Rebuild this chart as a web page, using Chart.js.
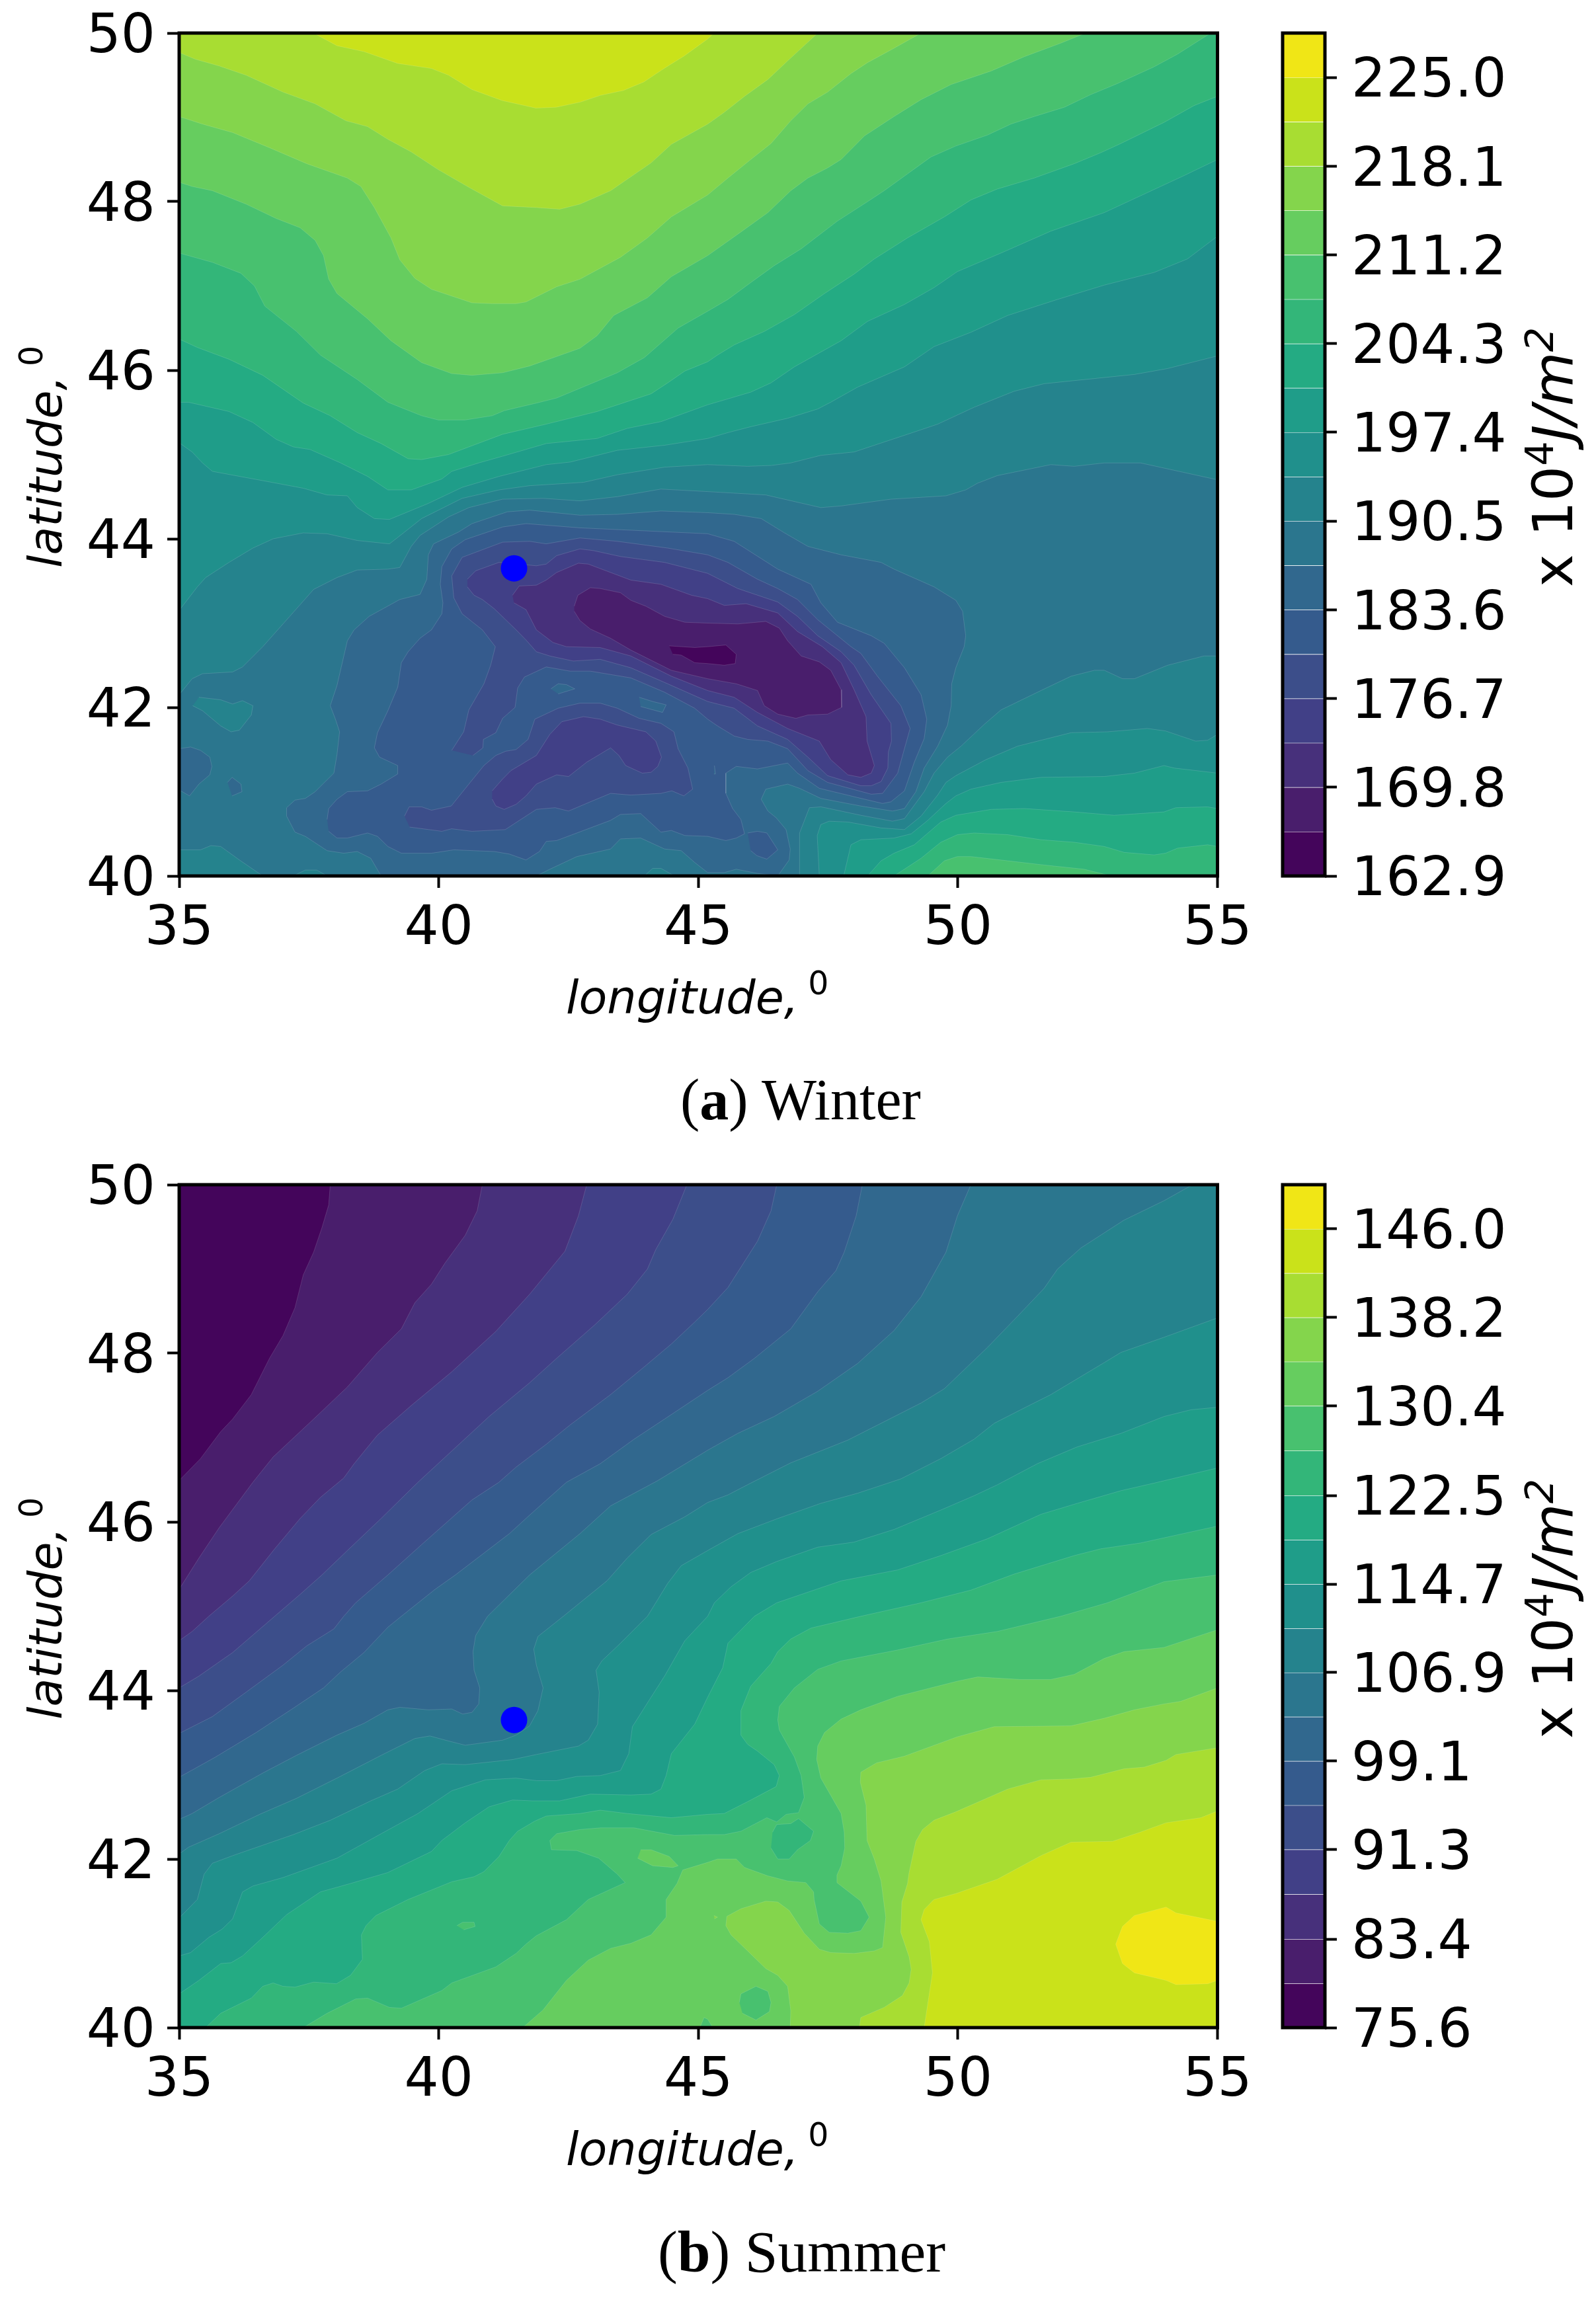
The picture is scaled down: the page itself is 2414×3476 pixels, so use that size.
<!DOCTYPE html>
<html><head><meta charset="utf-8"><title>Winter and Summer</title>
<script src="https://cdn.jsdelivr.net/npm/chart.js@4"></script>
<style>
html,body{margin:0;padding:0;background:#fff;width:2414px;height:3476px;overflow:hidden}
canvas{position:absolute}
.cap{position:absolute;font-family:"Liberation Serif",serif;line-height:100px;white-space:nowrap;color:#000}
.cb,.ax{position:absolute;font-family:"DejaVu Sans",sans-serif;white-space:nowrap;color:#000}
.cb{font-size:84px;line-height:100px;transform-origin:left top;transform:rotate(-90deg)}
.cb span{font-size:.7em;position:relative;top:-.5em}
.cb i{font-style:italic}
.ax{font-size:70px;line-height:80px;font-style:italic}
.ax span{font-style:normal;font-size:.7em;position:relative;top:-.6em;margin-left:-8px}
.ax.rot{transform-origin:left top;transform:rotate(-90deg)}
</style></head><body>
<canvas id="mapW" width="1900" height="1640" style="left:0;top:0;width:1900px;height:1640px"></canvas>
<canvas id="barW" width="514" height="1640" style="left:1900px;top:0;width:514px;height:1640px"></canvas>
<canvas id="mapS" width="1900" height="1640" style="left:0;top:1742px;width:1900px;height:1640px"></canvas>
<canvas id="barS" width="514" height="1640" style="left:1900px;top:1742px;width:514px;height:1640px"></canvas>
<div class="ax" style="left:856px;top:1469px">longitude, <span>0</span></div>
<div class="ax" style="left:856px;top:3211px">longitude, <span>0</span></div>
<div class="ax rot" style="left:29px;top:859px">latitude, <span>0</span></div>
<div class="ax rot" style="left:29px;top:2601px">latitude, <span>0</span></div>
<div class="cb" style="left:2299px;top:888px">x 10<span>4</span><i>J/m</i><span><i>2</i></span></div>
<div class="cb" style="left:2299px;top:2630px">x 10<span>4</span><i>J/m</i><span><i>2</i></span></div>
<div class="cap" style="left:1029px;top:1614px;font-size:88px">(<b>a</b>) Winter</div>
<div class="cap" style="left:995px;top:3356px;font-size:89.5px">(<b>b</b>) Summer</div>
<script>
const longitudeTicks=[35,40,45,50,55];
const latitudeTicks=[40,42,44,46,48,50];
const winterTicks=[162.9,169.8,176.7,183.6,190.5,197.4,204.3,211.2,218.1,225.0];
const winterEdges=[162.9,166.35,169.8,173.25,176.7,180.15,183.6,187.05,190.5,193.95,197.4,200.85,204.3,207.75,211.2,214.65,218.1,221.55,225.0,228.45];
const summerTicks=[75.6,83.4,91.3,99.1,106.9,114.7,122.5,130.4,138.2,146.0];
const summerEdges=[75.6,79.5,83.4,87.35,91.3,95.2,99.1,103,106.9,110.8,114.7,118.6,122.5,126.45,130.4,134.3,138.2,142.1,146.0,149.9];
/* band colours, index 0 = highest band */
const bandColors=['#F0E616','#CAE21A','#A8DD32','#84D54C','#66CD5F','#48C16F','#33B679','#24AB83','#1F9D89','#20908C','#25838D','#2B768E','#31688E','#355B8D','#3C4E8A','#414087','#47307B','#491E6C','#44055B'];
const siteLon=[41.45], siteLat=[43.65];

/* ---- Winter contour regions, flat lon,lat lists ---- */
const wFull=[35,40,55,40,55,50,35,50];
const wU10=[35,42.15,35.25,42.34,35.45,42.40,36.03,42.42,36.22,42.48,36.61,42.72,37.13,43.08,37.59,43.40,38.04,43.54,38.43,43.63,39.02,43.64,39.25,43.66,39.47,43.91,39.64,44.04,40.19,44.26,40.58,44.37,41.23,44.47,42.01,44.48,42.72,44.45,43.44,44.50,44.28,44.59,45.18,44.56,46.30,44.52,47.36,44.37,47.75,44.39,48.71,44.47,49.77,44.51,50.15,44.58,50.38,44.66,50.76,44.75,51.79,44.88,52.24,44.86,52.82,44.90,53.52,44.90,55,44.70,55,50,35,50];
const wU9=[35,43.15,35.35,43.43,35.51,43.54,35.96,43.72,36.42,43.89,36.81,44.00,37.39,44.07,37.85,44.06,38.43,43.98,39.05,43.94,39.28,44.05,39.67,44.24,39.93,44.32,40.45,44.48,41.16,44.58,41.75,44.63,42.79,44.67,43.44,44.76,44.35,44.85,45.18,44.88,45.95,44.86,46.40,44.87,46.78,44.90,47.36,44.99,48.0,45.03,49.03,45.24,49.61,45.36,50.31,45.56,51.08,45.75,51.66,45.84,53.40,45.95,54.04,46.02,55,46.17,55,50,35,50];
const wU8=[35,45.14,35.25,45.03,35.45,44.90,35.64,44.80,36.61,44.69,37.39,44.60,37.85,44.52,38.24,44.51,38.43,44.37,38.76,44.24,39.05,44.23,39.80,44.42,40.45,44.61,41.16,44.74,42.07,44.88,42.53,44.91,43.44,45.05,44.35,45.11,45.18,45.19,45.57,45.26,46.01,45.33,46.72,45.43,47.30,45.54,47.55,45.62,48.07,45.80,48.97,46.04,49.54,46.28,50.25,46.45,50.96,46.65,51.92,46.84,52.82,47.01,53.78,47.16,54.42,47.32,55,47.59,55,50,35,50];
const wU7=[35,45.62,35.18,45.62,35.96,45.51,36.42,45.38,36.87,45.18,37.20,45.09,37.52,45.06,38.11,44.90,38.63,44.74,39.02,44.58,39.47,44.58,40.06,44.71,40.25,44.80,40.77,44.90,41.23,44.98,42.07,45.13,43.05,45.19,43.63,45.31,44.28,45.39,45.18,45.59,45.57,45.66,46.01,45.74,46.40,45.85,46.85,46.04,47.75,46.35,48.26,46.58,48.97,46.78,49.54,46.98,49.99,47.17,50.83,47.39,51.79,47.65,52.82,47.87,53.52,48.07,54.36,48.31,55,48.50,55,50,35,50];
const wU6=[35,46.37,35.35,46.27,35.96,46.13,36.61,45.94,37.39,45.61,37.91,45.46,38.43,45.26,38.89,45.13,39.41,44.95,39.67,44.94,40.19,45.0,41.23,45.24,42.07,45.36,43.05,45.51,44.09,45.72,44.41,45.85,44.74,45.99,45.18,46.10,45.37,46.18,45.69,46.30,46.27,46.46,46.85,46.66,47.43,46.91,48.0,47.14,48.39,47.32,49.03,47.57,49.74,47.82,50.25,48.02,50.76,48.15,51.47,48.28,52.24,48.45,52.75,48.58,53.14,48.69,53.97,48.94,54.55,49.14,55,49.25,55,50,35,50];
const wU5=[35,47.39,35.64,47.28,36.19,47.15,36.45,47.0,36.65,46.76,37.26,46.46,37.72,46.18,38.43,45.89,39.02,45.62,39.67,45.46,39.99,45.41,40.51,45.41,41.03,45.46,41.26,45.52,41.88,45.61,42.27,45.67,43.44,45.97,43.96,46.15,44.61,46.50,45.18,46.70,45.57,46.84,46.01,47.04,46.46,47.24,46.98,47.44,47.68,47.77,48.26,48.0,48.58,48.13,49.03,48.33,49.48,48.53,49.96,48.66,50.57,48.79,51.02,48.92,51.47,49.01,52.05,49.12,52.56,49.27,53.07,49.40,53.78,49.60,54.23,49.75,54.87,50,35,50];
const wU4=[35,48.23,35.25,48.18,35.64,48.13,36.29,47.97,36.87,47.80,37.33,47.69,37.62,47.54,37.78,47.36,37.88,47.08,38.04,46.91,38.63,46.61,39.08,46.35,39.67,46.09,40.25,45.96,40.64,45.94,41.23,45.97,41.75,46.05,42.72,46.26,43.05,46.41,43.37,46.65,44.02,46.86,44.48,47.11,45.18,47.36,45.82,47.64,46.34,47.87,46.78,48.13,47.11,48.28,47.49,48.40,47.75,48.50,48.20,48.78,48.77,49.01,49.29,49.21,49.87,49.39,50.64,49.55,51.28,49.72,51.98,49.88,52.46,50,35,50];
const wU3=[35,49.01,35.45,48.92,36.03,48.82,36.74,48.64,37.46,48.45,38.24,48.28,38.50,48.18,38.76,47.93,39.08,47.57,39.25,47.31,39.54,47.09,39.86,46.96,40.64,46.80,41.03,46.79,41.49,46.79,41.68,46.81,42.27,46.99,42.72,47.08,43.50,47.34,44.02,47.57,44.48,47.82,45.18,48.08,45.57,48.28,46.01,48.50,46.40,48.69,46.78,48.96,47.11,49.16,47.49,49.30,47.94,49.52,48.26,49.65,48.71,49.80,49.29,50,35,50];
const wU2=[35,49.77,35.31,49.69,35.77,49.61,36.29,49.50,37.0,49.30,37.62,49.16,38.21,48.96,38.63,48.89,39.02,48.74,39.47,48.59,39.99,48.38,40.58,48.17,41.23,47.95,41.88,47.93,42.33,47.91,42.72,47.97,43.31,48.13,44.09,48.46,44.48,48.68,45.18,48.92,45.50,49.06,45.89,49.25,46.34,49.45,46.72,49.67,47.30,50,35,50];
const wU1=[37.59,50,38.04,49.85,38.56,49.78,39.21,49.64,39.86,49.58,40.19,49.50,40.64,49.33,41.22,49.20,41.87,49.11,42.26,49.12,42.72,49.18,43.11,49.26,43.56,49.32,43.95,49.42,44.34,49.58,44.73,49.73,45.18,49.93,45.3,50];
const wR10=[46.95,40,46.95,40.51,47.14,40.81,47.36,40.82,47.52,40.80,48.13,40.72,48.74,40.65,48.97,40.68,49.35,41.0,49.54,41.22,49.80,41.41,50.06,41.54,50.51,41.80,50.83,41.97,51.60,42.20,52.18,42.37,52.63,42.44,52.82,42.44,53.17,42.34,53.40,42.34,54.04,42.50,54.74,42.61,55,42.61,55,40];
const wR9=[47.33,40,47.29,40.48,47.36,40.61,47.52,40.65,47.88,40.64,48.52,40.57,48.97,40.55,49.29,40.71,49.61,40.96,49.77,41.11,49.96,41.19,50.54,41.38,51.15,41.54,52.18,41.70,52.88,41.71,53.65,41.75,54.0,41.72,54.58,41.60,54.81,41.61,55,41.68,55,40];
const wR8=[47.80,40,47.94,40.37,48.13,40.43,48.77,40.45,49.10,40.50,49.42,40.66,49.77,40.86,49.96,40.95,50.25,41.03,50.83,41.11,51.60,41.17,52.82,41.18,53.40,41.22,53.97,41.31,54.17,41.28,55,41.22,55,40];
const wR7=[48.26,40,48.52,40.18,48.77,40.27,49.16,40.37,49.67,40.64,49.96,40.72,50.64,40.79,51.28,40.80,52.24,40.76,53.01,40.72,53.97,40.76,54.20,40.81,54.81,40.82,55,40.80,55,40];
const wR6=[48.77,40,49.29,40.21,49.67,40.40,49.99,40.49,50.31,40.51,50.96,40.49,51.60,40.43,52.24,40.40,52.82,40.35,53.20,40.28,53.78,40.25,54.0,40.27,54.23,40.33,54.81,40.37,55,40.35,55,40];
const wR5=[49.42,40,49.74,40.18,49.99,40.23,50.25,40.23,50.96,40.18,51.66,40.13,52.43,40.08,52.95,40];
const wCornerSW=[35,40,35,40.31,35.41,40.31,35.61,40.36,35.80,40.35,36.16,40.19,36.61,40];
const wCapS1=[37.2,40,37.43,40.07,37.65,40.07,37.85,40];
const wCapS2=[43.96,40,44.12,40.09,44.28,40.09,44.54,40];
const wIslandW=[35.38,42.12,35.80,42.09,36.03,42.04,36.22,42.08,36.42,42.02,36.39,41.91,36.16,41.73,36.0,41.71,35.80,41.78,35.45,41.96,35.26,42.02];
const wD12=[38.89,40,38.69,40.21,38.43,40.29,38.17,40.27,37.85,40.30,37.43,40.47,37.23,40.52,37.07,40.71,37.07,40.81,37.23,40.90,37.43,40.92,37.62,41.0,37.98,41.22,38.04,41.44,38.09,41.71,38.01,41.86,37.91,42.02,38.04,42.26,38.24,42.79,38.37,42.92,38.66,43.08,39.25,43.28,39.64,43.34,39.77,43.52,39.80,43.81,39.90,43.94,40.38,44.08,40.64,44.18,41.32,44.32,41.75,44.34,42.72,44.28,43.44,44.29,44.28,44.33,45.18,44.31,45.69,44.29,46.21,44.24,46.66,44.07,47.11,43.91,47.75,43.81,48.52,43.72,48.77,43.64,49.54,43.43,49.96,43.27,50.09,43.14,50.15,42.85,50.12,42.72,49.96,42.47,49.88,42.28,49.87,42.02,49.80,41.79,49.61,41.54,49.35,41.28,49.19,41.0,48.97,40.80,48.74,40.77,48.13,40.83,47.36,40.92,46.95,41.04,46.72,41.09,46.30,41.03,46.21,40.91,46.34,40.77,46.50,40.69,46.69,40.55,46.77,40.32,46.75,40.19,46.53,40,46.14,40.03,45.73,40.08,45.50,40.04,45.18,40.04,44.93,40.16,44.67,40.30,44.35,40.32,43.89,40.45,43.50,40.44,43.31,40.32,42.66,40.23,42.14,40.08,41.88,40];
const wPool12a=[35,41.51,35.22,41.53,35.41,41.49,35.59,41.41,35.63,41.30,35.59,41.20,35.38,41.09,35.20,40.95,35,41.02];
const wPool12b=[35.93,41.11,36.02,41.17,36.19,41.09,36.21,41.0,36.02,40.95];
const wD13=[37.85,40.67,37.88,40.80,38.04,40.91,38.24,41.0,38.63,41.01,38.89,41.09,39.21,41.21,39.21,41.31,38.86,41.41,38.76,41.52,38.82,41.70,39.02,41.96,39.21,42.24,39.28,42.53,39.41,42.66,39.64,42.82,39.86,42.92,40.06,43.11,40.08,43.24,40.03,43.46,40.06,43.67,40.25,43.88,40.51,43.99,41.23,44.14,41.68,44.18,42.72,44.13,45.18,44.06,45.69,43.97,46.53,43.64,47.17,43.46,47.36,43.24,47.68,43.01,48.33,42.85,48.58,42.76,48.97,42.47,49.29,42.15,49.40,41.86,49.35,41.63,49.16,41.35,48.97,41.01,48.71,40.88,48.55,40.86,48.07,40.93,47.33,41.04,46.91,41.22,46.72,41.34,46.14,41.27,45.73,41.30,45.53,41.22,45.53,40.98,45.66,40.80,45.82,40.67,45.89,40.50,45.73,40.45,45.53,40.42,45.18,40.47,44.74,40.48,44.48,40.54,44.28,40.52,43.89,40.74,43.50,40.73,43.31,40.66,42.66,40.51,42.27,40.42,42.07,40.41,41.94,40.29,41.68,40.19,41.36,40.26,41.07,40.29,40.29,40.31,39.86,40.27,39.28,40.27,39.02,40.35,38.82,40.47,38.63,40.51,38.24,40.45,38.04,40.45,37.88,40.53];
const wPool13=[45.95,40.51,46.14,40.53,46.32,40.51,46.53,40.31,46.32,40.20,46.13,40.24,46.01,40.30];
const wRise12a=[42.16,42.22,42.30,42.28,42.46,42.27,42.62,42.22,42.30,42.16];
const wRise12b=[43.86,42.12,44.12,42.07,44.38,42.03,44.31,41.94,43.89,42.01];
const wRise12c=[45.31,41.31,45.33,41.21,45.30,41.21];
const wD14a=[40.25,41.49,40.48,41.71,40.58,41.97,40.87,42.28,41.0,42.50,41.09,42.72,40.84,42.92,40.45,43.11,40.29,43.30,40.25,43.56,40.45,43.78,41.23,43.96,41.75,43.97,42.07,43.94,42.72,44.01,43.44,43.97,44.41,43.89,45.18,43.81,45.57,43.72,46.14,43.52,46.53,43.41,46.91,43.28,47.30,43.04,47.94,42.72,48.13,42.64,48.45,42.37,48.90,42.02,49.08,41.75,48.97,41.51,48.84,41.22,48.55,40.98,48.33,40.97,47.49,41.11,47.11,41.25,46.72,41.51,46.34,41.60,45.95,41.62,45.69,41.66,45.37,41.78,45.18,41.86,44.93,41.99,44.35,42.18,43.70,42.35,42.92,42.43,42.53,42.43,42.07,42.48,41.65,42.36,41.52,42.23,41.47,42.0,41.23,41.87,41.10,41.70,40.86,41.62,40.85,41.52,40.66,41.43];
const wD14b=[39.34,40.71,39.43,40.82,39.67,40.82,39.86,40.78,40.24,40.83,40.58,41.09,40.87,41.31,41.10,41.43,41.29,41.48,41.49,41.50,41.72,41.62,41.85,41.86,42.30,41.99,42.72,42.05,43.11,42.05,43.44,41.99,43.86,41.87,44.28,41.81,44.53,41.71,44.61,41.51,44.80,41.28,44.89,41.03,44.72,40.95,44.49,41.01,44.28,40.98,43.70,40.96,43.31,40.98,42.92,40.88,42.50,40.77,42.24,40.81,41.88,40.79,41.28,40.55,40.64,40.53,40.25,40.56,40.06,40.53,39.44,40.58];
const wD15b=[41.03,41.01,41.23,41.15,41.39,41.25,41.88,41.43,42.14,41.68,42.37,41.83,42.79,41.89,43.11,41.86,43.44,41.79,43.99,41.71,44.18,41.60,44.29,41.41,44.22,41.30,44.09,41.23,43.92,41.22,43.60,41.31,43.47,41.43,43.31,41.52,42.85,41.35,42.50,41.18,42.27,41.20,41.88,41.09,41.68,40.95,41.49,40.85,41.26,40.79,41.10,40.83,41.03,40.91];
const wD15a=[40.55,43.52,40.71,43.62,41.16,43.72,41.88,43.68,42.07,43.70,42.27,43.80,42.72,43.88,42.98,43.86,43.50,43.79,44.35,43.72,45.18,43.59,45.76,43.41,46.53,43.25,46.91,43.08,47.30,42.85,47.75,42.66,48.0,42.50,48.33,42.15,48.71,41.81,48.72,41.60,48.66,41.47,48.65,41.28,48.52,41.12,48.33,41.07,48.13,41.07,47.49,41.19,47.11,41.41,46.72,41.62,46.14,41.78,45.69,41.99,45.18,42.07,44.41,42.28,43.70,42.47,43.11,42.57,42.59,42.55,42.14,42.61,41.88,42.66,41.68,42.80,41.49,42.92,41.07,43.17,40.84,43.28,40.68,43.33,40.55,43.43];
const wD16=[41.42,43.33,41.55,43.44,41.88,43.45,42.07,43.51,42.27,43.60,42.69,43.71,42.88,43.70,43.70,43.51,44.28,43.46,44.87,43.33,45.18,43.29,45.50,43.21,45.92,43.23,46.53,43.12,46.91,42.90,47.39,42.72,47.75,42.53,48.0,42.21,48.23,41.89,48.25,41.60,48.39,41.31,48.33,41.22,48.13,41.17,47.88,41.20,47.55,41.38,47.33,41.60,46.72,41.75,46.14,41.94,45.69,42.12,45.18,42.20,44.48,42.37,43.70,42.61,43.11,42.71,42.46,42.72,42.20,42.77,41.88,42.92,41.68,43.16,41.45,43.24];
const wD17=[42.61,43.20,42.68,43.33,42.92,43.42,43.11,43.41,43.50,43.36,43.70,43.27,43.99,43.20,44.35,43.08,44.74,43.01,45.18,43.0,45.76,42.99,46.30,43.02,46.56,42.94,46.72,42.79,46.98,42.61,47.33,42.54,47.55,42.44,47.75,42.21,47.76,42.0,47.49,41.92,47.11,41.91,46.88,41.87,46.53,41.92,46.27,42.02,46.14,42.20,45.73,42.28,45.18,42.34,44.48,42.44,43.70,42.68,43.31,42.82,42.92,42.93,42.72,43.03,42.61,43.14];
const wD18=[44.44,42.73,44.93,42.71,45.18,42.72,45.53,42.74,45.73,42.63,45.71,42.52,45.50,42.50,45.18,42.52,44.93,42.53,44.67,42.62,44.51,42.63];
const winterLayers=[[11,wFull],[10,wU10],[9,wU9],[8,wU8],[7,wU7],[6,wU6],[5,wU5],[4,wU4],[3,wU3],[2,wU2],[1,wU1],
 [10,wR10],[9,wR9],[8,wR8],[7,wR7],[6,wR6],[5,wR5],[10,wCornerSW],[10,wCapS1],[10,wCapS2],[10,wIslandW],
 [12,wD12],[12,wPool12a],[12,wPool12b],[13,wD13],[13,wPool13],[12,wRise12a],[12,wRise12b],[12,wRise12c],
 [14,wD14a],[14,wD14b],[15,wD15b],[15,wD15a],[16,wD16],[17,wD17],[18,wD18]];

/* ---- Summer contour regions, flat lon,lat lists ---- */
const sFull=[35,40,55,40,55,50,35,50];
const s17=[35,46.49,35.41,46.75,35.80,47.07,36.03,47.22,36.39,47.51,36.74,47.94,37.0,48.21,37.23,48.54,37.39,48.93,37.59,49.20,37.75,49.49,37.88,49.76,37.91,50,55,50,55,40,35,40];
const s16=[35,45.20,35.38,45.57,35.77,45.93,36.42,46.47,36.81,46.77,37.59,47.22,38.24,47.60,38.82,48.01,39.28,48.29,39.54,48.60,39.86,48.82,40.12,49.07,40.51,49.40,40.74,49.69,40.84,50,55,50,55,40,35,40];
const s15=[35,44.59,35.25,44.70,35.57,44.88,36.03,45.12,36.35,45.30,36.84,45.68,37.33,46.04,37.72,46.29,38.17,46.52,38.37,46.69,38.82,47.03,39.47,47.38,40.25,47.78,41.10,48.26,41.75,48.70,42.43,49.21,42.69,49.63,42.85,50,55,50,55,40,35,40];
const s14=[35,44.03,35.38,44.17,36.03,44.45,36.84,44.88,37.33,45.14,37.75,45.37,38.24,45.66,38.89,46.04,39.60,46.47,40.25,46.84,40.97,47.25,41.75,47.65,42.27,47.94,43.01,48.34,43.63,48.70,44.02,49.0,44.18,49.23,44.51,49.59,44.78,50,55,50,55,40,35,40];
const s13=[35,43.49,35.64,43.69,36.29,43.98,37.0,44.30,37.46,44.53,37.98,44.73,38.17,44.88,38.40,45.04,39.02,45.37,39.67,45.73,40.64,46.26,41.16,46.47,41.49,46.65,42.07,46.92,42.53,47.15,43.31,47.51,43.96,47.84,44.48,48.11,44.93,48.37,45.18,48.52,45.57,48.78,46.14,49.33,46.40,49.69,46.51,50,55,50,55,40,35,40];
const s12=[35,42.97,35.70,43.21,36.48,43.50,37.20,43.79,37.78,44.03,38.11,44.22,38.56,44.45,39.02,44.75,39.28,44.88,39.93,45.20,40.32,45.37,41.36,45.86,41.75,46.08,42.46,46.47,43.11,46.69,43.76,46.98,44.35,47.22,45.18,47.56,45.57,47.71,46.08,47.94,46.78,48.29,47.30,48.73,47.65,48.98,47.81,49.20,48.04,49.63,48.16,50,55,50,55,40,35,40];
const s11=[35,42.47,35.25,42.54,35.77,42.73,36.61,43.02,37.26,43.23,38.04,43.47,38.56,43.61,39.02,43.77,39.25,43.80,39.80,43.77,40.25,43.78,40.46,43.72,40.64,43.74,40.77,43.84,40.79,44.03,40.68,44.24,40.66,44.46,40.71,44.65,40.94,44.88,41.75,45.37,42.72,45.86,43.31,46.19,44.22,46.49,45.18,46.85,45.76,47.05,46.46,47.25,47.30,47.55,48.07,47.88,48.77,48.27,49.29,48.67,49.77,49.20,49.99,49.63,50.25,50,55,50,55,40,35,40];
const s10=[35,42.06,35.18,42.14,35.77,42.30,36.55,42.53,37.26,42.72,38.04,42.96,38.89,43.23,39.54,43.43,39.83,43.46,40.19,43.40,40.51,43.35,41.23,43.41,41.49,43.47,41.75,43.58,41.91,43.76,42.01,44.03,41.88,44.30,41.83,44.49,41.91,44.64,42.40,44.88,43.24,45.30,43.63,45.57,44.09,45.85,44.74,46.06,45.18,46.23,45.57,46.32,46.01,46.46,46.78,46.70,47.88,46.97,49.29,47.41,49.74,47.58,50.57,48.07,51.15,48.44,51.66,48.77,51.92,49.0,52.37,49.25,53.20,49.58,53.97,49.81,54.52,50,55,50,55,40,35,40];
const s9=[35,41.30,35.35,41.52,35.48,41.82,35.64,41.95,36.03,42.04,37.20,42.29,37.91,42.46,38.69,42.69,39.21,42.83,39.73,43.05,40.06,43.13,40.51,43.12,41.42,43.18,41.88,43.24,42.69,43.34,42.88,43.41,43.06,43.60,43.09,43.98,43.03,44.24,43.14,44.35,43.50,44.56,44.02,44.88,44.41,45.27,44.67,45.48,45.18,45.66,45.76,45.86,46.53,46.04,47.36,46.22,48.07,46.34,48.90,46.51,49.67,46.75,50.31,46.98,50.70,47.17,51.21,47.33,51.79,47.51,52.82,47.89,53.14,48.01,53.97,48.19,55,48.42,55,40,35,40];
const s8=[35,40.85,35.22,40.89,35.57,41.07,35.83,41.17,36.03,41.29,36.22,41.61,36.42,41.68,37.0,41.78,38.04,42.01,38.89,42.30,39.60,42.54,40.25,42.81,40.90,42.94,41.49,42.96,41.88,42.93,42.27,42.93,42.66,42.98,43.11,42.99,43.50,43.05,43.66,43.25,43.73,43.57,44.09,43.92,44.35,44.17,44.74,44.59,45.18,44.88,45.31,45.04,45.63,45.23,46.01,45.40,46.51,45.53,47.30,45.70,48.0,45.76,48.77,45.91,49.67,46.14,50.31,46.31,50.76,46.44,51.53,46.69,52.30,46.89,53.14,47.05,53.97,47.25,54.49,47.33,55,47.36,55,40,35,40];
const s7=[35,40.40,35.38,40.56,35.80,40.76,36.0,40.77,36.22,40.85,36.61,41.07,37.07,41.34,37.72,41.61,38.30,41.71,39.02,41.84,39.86,42.09,40.06,42.22,40.51,42.43,40.97,42.62,41.42,42.70,41.81,42.69,42.33,42.69,42.92,42.77,43.70,42.76,44.09,42.77,44.28,42.83,44.38,42.99,44.48,43.25,44.93,43.60,45.18,43.92,45.47,44.27,45.57,44.56,46.08,44.88,46.51,45.04,47.75,45.30,48.84,45.43,49.67,45.60,50.57,45.80,51.60,46.09,52.30,46.22,53.14,46.37,53.78,46.46,55,46.64,55,40,35,40];
const s6=[35.51,40,35.80,40.17,36.39,40.35,36.61,40.49,36.81,40.53,37.0,40.49,37.23,40.48,37.59,40.54,38.03,40.52,38.30,40.62,38.53,40.81,38.51,41.10,38.60,41.21,38.79,41.33,39.41,41.52,40.25,41.73,40.68,41.79,40.87,41.85,41.16,42.03,41.36,42.22,41.52,42.33,41.85,42.45,42.07,42.51,42.72,42.54,43.11,42.58,43.63,42.54,44.48,42.49,45.18,42.53,45.50,42.54,46.01,42.70,46.50,42.86,46.56,42.99,46.46,43.12,46.14,43.28,45.95,43.36,45.82,43.47,45.82,43.76,46.01,44.05,46.40,44.32,46.53,44.46,46.78,44.61,47.17,44.74,48.13,44.88,49.29,45.04,50.25,45.19,51.08,45.38,52.24,45.60,52.75,45.68,53.52,45.75,55,45.95,55,40];
const s5=[37.39,40,37.85,40.17,38.40,40.34,38.63,40.35,39.05,40.24,39.28,40.23,40.06,40.44,40.25,40.53,41.10,40.72,41.49,40.88,41.68,40.99,41.88,41.09,42.46,41.28,42.88,41.52,43.59,41.72,43.44,41.82,43.08,42.01,42.66,42.10,42.17,42.11,42.14,42.22,42.27,42.30,42.72,42.35,43.11,42.37,43.76,42.37,44.54,42.28,45.18,42.29,45.50,42.29,45.82,42.33,46.32,42.49,46.51,42.44,46.69,42.53,46.93,42.55,47.04,42.73,46.98,42.99,46.85,43.21,46.56,43.53,46.53,43.65,46.56,43.81,46.85,44.03,47.30,44.25,47.75,44.35,48.84,44.48,49.80,44.61,50.76,44.70,51.98,44.88,52.88,45.04,53.97,45.29,55,45.37,55,40];
const s4=[41.62,40,42.01,40.21,42.46,40.56,42.88,40.80,43.31,40.94,43.70,41.0,44.09,41.10,44.38,41.31,44.38,41.52,44.59,41.71,44.70,41.87,45.18,41.96,45.37,42.0,45.73,42.0,45.89,41.90,46.34,41.80,46.72,41.74,47.07,41.72,47.22,41.61,47.23,41.52,47.33,41.23,47.52,41.13,47.88,41.12,48.13,41.15,48.29,41.31,48.13,41.50,47.67,41.72,47.67,41.81,47.75,41.92,47.82,42.13,47.81,42.32,47.75,42.54,47.36,42.96,47.28,43.18,47.30,43.34,47.43,43.50,47.75,43.66,48.13,43.77,48.84,43.93,49.99,44.11,50.38,44.16,51.21,44.13,51.79,44.13,52.24,44.19,52.82,44.38,53.20,44.46,53.97,44.51,55,44.72,55,40];
const s3=[46.77,40,46.78,40.20,46.72,40.49,46.53,40.62,46.30,40.70,45.95,40.91,45.63,41.10,45.53,41.21,45.55,41.32,45.82,41.41,46.30,41.50,46.53,41.49,46.75,41.39,47.04,41.12,47.33,40.93,47.55,40.89,48.0,40.88,48.39,40.91,48.55,40.95,48.61,41.31,48.52,41.74,48.39,42.0,48.25,42.22,48.23,42.64,48.12,42.91,48.13,43.03,48.43,43.14,48.97,43.22,49.99,43.45,50.70,43.57,52.18,43.58,52.82,43.67,53.40,43.77,53.97,43.84,54.29,43.87,55,44.03,55,40];
const s2=[48.10,40,48.13,40.12,48.58,40.24,48.93,40.38,49.06,40.53,49.10,40.69,49.06,40.84,48.90,41.13,48.92,41.49,49.03,41.71,49.06,41.84,49.19,42.21,49.32,42.35,49.54,42.46,49.96,42.56,50.96,42.83,51.60,42.94,52.18,42.95,52.56,42.97,53.20,43.07,53.59,43.09,54.01,43.17,54.20,43.24,55,43.32,55,40];
const s1=[49.35,40,49.51,40.65,49.45,41.02,49.29,41.28,49.35,41.40,49.54,41.52,49.96,41.59,50.76,41.76,51.60,42.04,52.18,42.20,52.98,42.21,53.52,42.32,54.01,42.43,54.68,42.49,55,42.57,55,40];
const s0=[55,41.26,54.20,41.36,54.01,41.43,53.40,41.33,53.17,41.20,53.04,40.99,53.17,40.76,53.40,40.65,54.01,40.56,54.20,40.51,54.81,40.52,55,40.56];
const sPool6=[46.43,42.32,46.51,42.41,46.78,42.42,46.93,42.48,47.22,42.33,47.16,42.22,46.91,42.11,46.75,42.0,46.53,42.0,46.40,42.13];
const sRise5=[40.35,41.21,40.46,41.25,40.68,41.25,40.70,41.20,40.48,41.16];
const sRise4=[43.89,42.11,44.09,42.11,44.44,42.03,44.61,41.92,44.51,41.90,44.12,41.92,43.83,42.01];
const sNotch5=[45.03,40,45.11,40.12,45.18,40.1,45.28,40];
const sPool5=[45.79,40.30,45.82,40.40,46.11,40.49,46.34,40.43,46.40,40.30,46.37,40.19,46.11,40.09,45.85,40.17];
const sRise3=[45.30,41.33,45.37,41.31,45.31,41.29];
const summerLayers=[[18,sFull],[17,s17],[16,s16],[15,s15],[14,s14],[13,s13],[12,s12],[11,s11],[10,s10],[9,s9],[8,s8],[7,s7],[6,s6],[5,s5],
 [6,sPool6],[5,sRise5],[4,s4],[4,sRise4],[5,sNotch5],[5,sPool5],[3,s3],[3,sRise3],[2,s2],[1,s1],[0,s0]];

Chart.defaults.font.family='"DejaVu Sans"';
Chart.defaults.color='#000';
Chart.defaults.animation=false;
const frame={id:'frame',afterDraw(c){const a=c.chartArea,x=c.ctx;x.save();x.lineWidth=5;x.strokeStyle='#000';x.strokeRect(a.left,a.top,a.right-a.left,a.bottom-a.top);x.restore();}};
const toPoints=f=>{const o=[];for(let i=0;i<f.length;i+=2)o.push({x:f[i],y:f[i+1]});return o;};
const noPad=s=>{s.paddingTop=s.paddingBottom=s.paddingLeft=s.paddingRight=0;};
function drawMap(id,layers){
  const datasets=layers.map(([band,pts],i)=>({type:'scatter',data:toPoints(pts),showLine:true,fill:'shape',tension:0,pointRadius:0,
    backgroundColor:bandColors[band],borderColor:i?'rgba(255,255,255,.14)':bandColors[band],borderWidth:i?1:0,order:layers.length-i+1}));
  datasets.push({type:'scatter',data:[{x:siteLon[0],y:siteLat[0]}],pointRadius:20,pointBackgroundColor:'#0000ff',pointBorderWidth:0,order:0});
  new Chart(document.getElementById(id),{type:'scatter',data:{datasets},plugins:[frame],options:{
    responsive:false,devicePixelRatio:1,layout:{padding:{left:0,top:50,right:58.5,bottom:0}},
    plugins:{legend:{display:false},tooltip:{enabled:false}},
    scales:{
      x:{type:'linear',min:35,max:55,afterFit(s){s.height=315;noPad(s);},afterBuildTicks(s){s.ticks=longitudeTicks.map(v=>({value:v}));},
        grid:{drawOnChartArea:false,tickLength:18,tickWidth:4,tickColor:'#000'},border:{display:false},
        ticks:{font:{size:82},maxRotation:0,autoSkip:false,padding:15}},
      y:{type:'linear',min:40,max:50,afterFit(s){s.width=271;noPad(s);},afterBuildTicks(s){s.ticks=latitudeTicks.map(v=>({value:v}));},
        grid:{drawOnChartArea:false,tickLength:18,tickWidth:4,tickColor:'#000'},border:{display:false},
        ticks:{font:{size:82},autoSkip:false,padding:18,labelOffset:8}}
    }}});
}
function drawBar(id,edges,tickVals){
  const datasets=edges.slice(0,-1).map((lo,i)=>({type:'bar',data:[[lo,edges[i+1]]],backgroundColor:bandColors[18-i],
    borderColor:'rgba(255,255,255,.12)',borderWidth:{top:i<18?1:0,bottom:0,left:0,right:0},borderSkipped:false,
    barPercentage:1,categoryPercentage:1,grouped:false}));
  new Chart(document.getElementById(id),{type:'bar',data:{labels:[''],datasets},plugins:[frame],options:{
    responsive:false,devicePixelRatio:1,layout:{padding:{left:40,top:50,right:0,bottom:315}},
    plugins:{legend:{display:false},tooltip:{enabled:false}},
    scales:{
      x:{display:false},
      y:{type:'linear',position:'right',min:edges[0],max:edges[19],afterFit(s){s.width=410;noPad(s);},
        afterBuildTicks(s){s.ticks=tickVals.map(v=>({value:v}));},
        grid:{drawOnChartArea:false,tickLength:18,tickWidth:4,tickColor:'#000'},border:{display:false},
        ticks:{font:{size:82},autoSkip:false,padding:22,labelOffset:8,callback:v=>Number(v).toFixed(1)}}
    }}});
}
drawMap('mapW',winterLayers);
drawBar('barW',winterEdges,winterTicks);
drawMap('mapS',summerLayers);
drawBar('barS',summerEdges,summerTicks);
</script>
</body></html>
